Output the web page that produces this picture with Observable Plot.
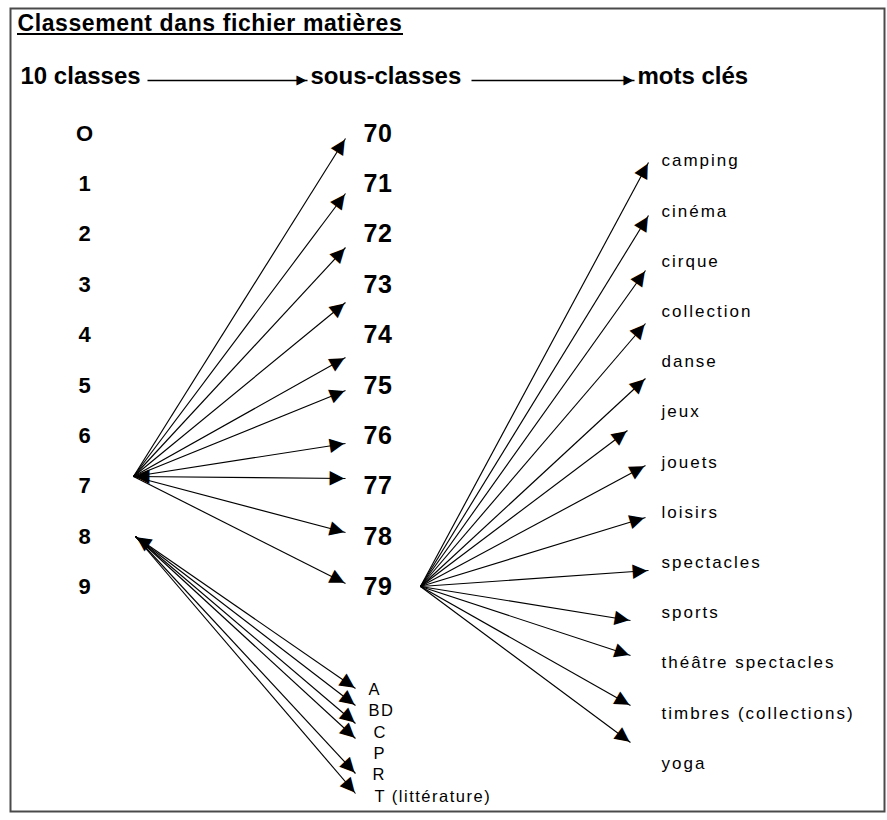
<!DOCTYPE html>
<html>
<head>
<meta charset="utf-8">
<script src="https://cdn.jsdelivr.net/npm/d3@7"></script>
<script src="https://cdn.jsdelivr.net/npm/@observablehq/plot@0.6"></script>
<style>
  body { margin: 0; background: #fff; }
  #chart svg { display: block; background: #fff; }
  #chart g[font-size="23"] text { letter-spacing: 0.6px; }
  #chart g[font-size="25"] text { letter-spacing: 0.5px; }
  #chart g[font-size="17"] text { letter-spacing: 2px; }
  #chart g[font-size="16.5"] text { letter-spacing: 1.5px; }
</style>
</head>
<body>
<div id="chart"></div>
<script>
// ---- Data ----
const titre = "Classement dans fichier matières";
const enTetes = ["10 classes", "sous-classes", "mots clés"];
const classes = ["O", "1", "2", "3", "4", "5", "6", "7", "8", "9"];
const sousClasses = ["70", "71", "72", "73", "74", "75", "76", "77", "78", "79"];
const motsCles = ["camping", "cinéma", "cirque", "collection", "danse", "jeux", "jouets",
  "loisirs", "spectacles", "sports", "théâtre spectacles", "timbres (collections)", "yoga"];
const lettres = ["A", "BD", "C", "P", "R", "T (littérature)"];

// where each arrow points
const pointesSousClasses = [138, 193, 247, 302, 357, 390, 443, 478, 532, 583];
const pointesMotsX = [648, 648, 645, 645, 645, 627, 645, 645, 648, 630, 630, 630, 630];
const pointesMotsY = [162, 215, 270, 323, 378, 430, 465, 517, 570, 620, 655, 705, 742];
const pointesLettres = [688, 705, 723, 738, 773, 793];
const retraitLettres = [0, 0, 5, 5, 4, 6]; // label indent

// ---- Layout ----
const W = 887, H = 820;
const colClasses = 84, colSous = 363, colMots = 661, colLettres = 368;
const rowY = i => 133 + 50.4 * i;
const motY = i => 461.6 + 50.2 * (i - 6);
const lettreY = i => 689 + 21.4 * i;
const enTeteX = [20, 310, 637];
const enTeteY = 76, flecheY = 80;
const hub7 = {x: 133, y: 476}, hub8 = {x: 135, y: 536}, hub79 = {x: 420, y: 586};

const tClasses = classes.map((t, i) => ({t, x: colClasses, y: rowY(i)}));
const tSous = sousClasses.map((t, i) => ({t, x: colSous, y: rowY(i)}));
const tMots = motsCles.map((t, i) => ({t, x: colMots, y: motY(i)}));
const tLettres = lettres.map((t, i) => ({t, x: colLettres + retraitLettres[i], y: lettreY(i)}));
const tEnTetes = enTetes.map((t, i) => ({t, x: enTeteX[i], y: enTeteY}));

const liens7 = sousClasses.map((s, i) => ({x1: hub7.x, y1: hub7.y, x2: 345, y2: pointesSousClasses[i]}));
const liens79 = motsCles.map((m, i) => ({x1: hub79.x, y1: hub79.y, x2: pointesMotsX[i], y2: pointesMotsY[i]}));
const liens8 = lettres.map((l, i) => ({x1: hub8.x, y1: hub8.y, x2: 355, y2: pointesLettres[i]}));
const liensEnTete = [
  {x1: 147, y1: flecheY, x2: enTeteX[1] - 3, y2: flecheY},
  {x1: 471, y1: flecheY, x2: enTeteX[2] - 3, y2: flecheY}
];

function tete(x1, y1, x2, y2, back) {
  const dx = x2 - x1, dy = y2 - y1, L = Math.hypot(dx, dy);
  const ux = dx / L, uy = dy / L;
  return {x: x2 - back * ux, y: y2 - back * uy, r: Math.atan2(dx, -dy) * 180 / Math.PI};
}
const liens = [...liens7, ...liens79, ...liens8];
const tetes = liens.map(d => tete(d.x1, d.y1, d.x2, d.y2, 7.5));
// reversed heads at hubs 7 and 8
tetes.push(tete(liens7[7].x2, liens7[7].y2, liens7[7].x1, liens7[7].y1, 7.5));
tetes.push(tete(liens8[0].x2, liens8[0].y2, liens8[0].x1, liens8[0].y1, 7.5));
const tetesEnTete = liensEnTete.map(d => tete(d.x1, d.y1, d.x2, d.y2, 5));

const font = "Liberation Sans, Arial, Helvetica, sans-serif";

const chart = Plot.plot({
  width: W, height: H,
  marginLeft: 10, marginRight: 3, marginTop: 8, marginBottom: 9,
  x: {domain: [10, 884], axis: null},
  y: {domain: [8, 811], reverse: true, axis: null},
  style: {background: "#fff", color: "#000"},
  marks: [
    Plot.frame({stroke: "#4a4a4a", strokeWidth: 2}),
    // title
    Plot.text([titre], {x: () => 17, y: () => 23.5, text: d => d, textAnchor: "start",
      fontSize: 23, fontWeight: "bold", fontFamily: font, fill: "#000"}),
    Plot.ruleY([33.5], {x1: 17, x2: 403, stroke: "#000", strokeWidth: 2}),
    // headers
    Plot.text(tEnTetes, {x: "x", y: "y", text: "t", textAnchor: "start",
      fontSize: 24, fontWeight: "bold", fontFamily: font, fill: "#000"}),
    Plot.link(liensEnTete, {x1: "x1", y1: "y1", x2: "x2", y2: "y2", stroke: "#000", strokeWidth: 1.4}),
    Plot.text(tetesEnTete, {x: "x", y: "y", rotate: "r", text: () => "▲", fontSize: 13,
      fontFamily: "DejaVu Sans", fill: "#000"}),
    // classes & subclasses
    Plot.text(tClasses, {x: "x", y: "y", text: "t", textAnchor: "middle",
      fontSize: 22, fontWeight: "bold", fontFamily: font, fill: "#000"}),
    Plot.text(tSous, {x: "x", y: "y", text: "t", textAnchor: "start",
      fontSize: 25, fontWeight: "bold", fontFamily: font, fill: "#000"}),
    // keywords & letters
    Plot.text(tMots, {x: "x", y: "y", text: "t", textAnchor: "start",
      fontSize: 17, fontFamily: font, fill: "#000"}),
    Plot.text(tLettres, {x: "x", y: "y", text: "t", textAnchor: "start",
      fontSize: 16.5, fontFamily: font, fill: "#000"}),
    // arrows
    Plot.link(liens, {x1: "x1", y1: "y1", x2: "x2", y2: "y2", stroke: "#000", strokeWidth: 1.15}),
    Plot.text(tetes, {x: "x", y: "y", rotate: "r", text: () => "▲", fontSize: 19,
      fontFamily: "DejaVu Sans", fill: "#000"})
  ]
});
document.getElementById("chart").appendChild(chart);
</script>
</body>
</html>
